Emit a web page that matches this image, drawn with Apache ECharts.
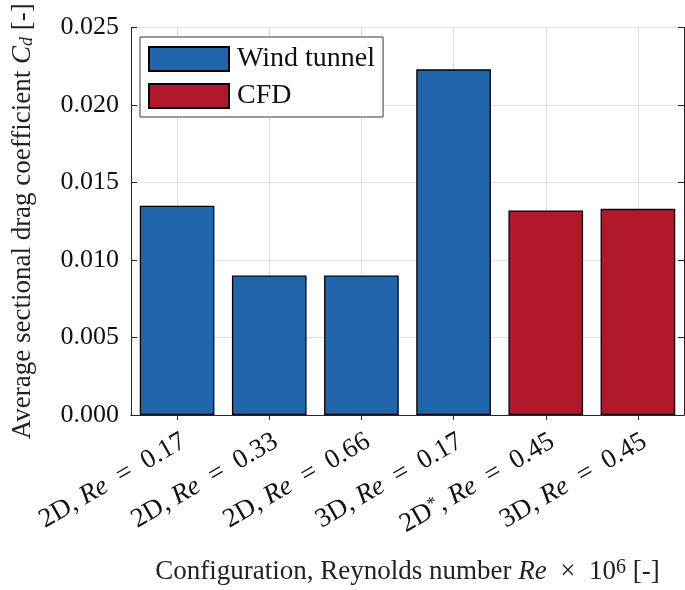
<!DOCTYPE html>
<html>
<head>
<meta charset="utf-8">
<script src="https://cdn.jsdelivr.net/npm/echarts@6/dist/echarts.min.js"></script>
<style>
html,body{margin:0;padding:0;background:#fff;}
#chart{width:685px;height:590px;}
</style>
</head>
<body>
<div id="chart"></div>
<script>
// ---- data ----
const categories = [
  '2D, {i|Re}\u2002=\u20020.17',
  '2D, {i|Re}\u2002=\u20020.33',
  '2D, {i|Re}\u2002=\u20020.66',
  '3D, {i|Re}\u2002=\u20020.17',
  '2D{sup|*}, {i|Re}\u2002=\u20020.45',
  '3D, {i|Re}\u2002=\u20020.45'
];
const windTunnel = [0.0135, 0.0090, 0.0090, 0.0223, '-', '-'];
const cfd = ['-', '-', '-', '-', 0.0132, 0.0133];
const yTicks = [0, 0.005, 0.010, 0.015, 0.020, 0.025];
const seriesNames = ['Wind tunnel', 'CFD'];

// ---- style ----
const FONT = '"Liberation Serif", "Times New Roman", serif';
const AX = '#262626';
const GRID = '#dedede';
const BLUE = '#2166ac';
const RED = '#b2182b';

// helper axis with 2*n+1 slots so odd slots fall on category centers
const helperCats = [];
for (let k = 0; k <= categories.length * 2; k++) helperCats.push(String(k));
const odd = (idx) => idx % 2 === 1;

const chart = echarts.init(document.getElementById('chart'), null, {renderer: 'canvas'});
chart.setOption({
  animation: false,
  backgroundColor: '#fff',
  textStyle: {fontFamily: FONT, color: AX},
  grid: {left: 131, right: 1, top: 27.5, bottom: 169.5, containLabel: false},
  legend: {
    orient: 'vertical',
    left: 140, top: 37,
    padding: [8, 8, 7, 8],
    itemGap: 9,
    itemWidth: 80, itemHeight: 24,
    borderColor: '#3a3a3a', borderWidth: 1,
    backgroundColor: '#fff',
    icon: 'rect',
    data: seriesNames,
    textStyle: {fontFamily: FONT, fontSize: 28, color: '#111', lineHeight: 24, padding: [0, 0, 0, 3]}
  },
  xAxis: [
    {
      type: 'category',
      data: categories,
      position: 'bottom',
      boundaryGap: true,
      axisLine: {show: true, lineStyle: {color: AX, width: 1}},
      axisTick: {show: true, inside: true, alignWithLabel: true, length: 5, lineStyle: {color: AX}},
      splitLine: {show: false},
      axisLabel: {
        rotate: 30, interval: 0, margin: 13,
        align: 'right', verticalAlign: 'top',
        fontFamily: FONT, fontSize: 27, color: '#111',
        rich: {
          i: {fontFamily: FONT, fontStyle: 'italic', fontSize: 27, color: '#111'},
          sup: {fontFamily: FONT, fontSize: 18, verticalAlign: 'top', lineHeight: 16, color: '#111'}
        }
      },
      name: 'Configuration, Reynolds number {i|Re}  ×  10{sup|6} [-]',
      nameLocation: 'middle',
      nameGap: 143,
      nameTextStyle: {
        fontFamily: FONT, fontSize: 27, color: '#222',
        rich: {
          i: {fontFamily: FONT, fontStyle: 'italic', fontSize: 27, color: '#222'},
          sup: {fontFamily: FONT, fontSize: 20, verticalAlign: 'top', lineHeight: 12, color: '#222'}
        }
      }
    },
    {
      type: 'category',
      data: helperCats,
      position: 'top',
      boundaryGap: false,
      axisLine: {show: true, lineStyle: {color: AX, width: 1}},
      axisTick: {show: true, inside: true, length: 5, interval: odd, lineStyle: {color: AX}},
      axisLabel: {show: false},
      splitLine: {show: true, interval: odd, lineStyle: {color: GRID, width: 1}}
    }
  ],
  yAxis: [
    {
      type: 'value',
      min: 0, max: 0.025, interval: 0.005,
      position: 'left',
      axisLine: {show: true, lineStyle: {color: AX, width: 1}},
      axisTick: {show: true, inside: true, length: 6, lineStyle: {color: AX}},
      splitLine: {show: true, lineStyle: {color: GRID, width: 1}},
      axisLabel: {
        margin: 12, fontFamily: FONT, fontSize: 26, color: '#111',
        formatter: (v) => yTicks.some(t => Math.abs(t - v) < 1e-9) ? v.toFixed(3) : ''
      },
      name: 'Average sectional drag coefficient {i|C}{sub|d} [-]',
      nameLocation: 'middle',
      nameRotate: 90,
      nameGap: 95,
      nameTextStyle: {
        fontFamily: FONT, fontSize: 27, color: '#222',
        rich: {
          i: {fontFamily: FONT, fontStyle: 'italic', fontSize: 27, color: '#222'},
          sub: {fontFamily: FONT, fontStyle: 'italic', fontSize: 18, verticalAlign: 'bottom', lineHeight: 16, color: '#222'}
        }
      }
    },
    {
      type: 'value',
      min: 0, max: 0.025, interval: 0.005,
      position: 'right',
      axisLine: {show: true, lineStyle: {color: AX, width: 1}},
      axisTick: {show: true, inside: true, length: 6, lineStyle: {color: AX}},
      splitLine: {show: false},
      axisLabel: {show: false}
    }
  ],
  series: [
    {
      name: seriesNames[0], type: 'bar', xAxisIndex: 0, yAxisIndex: 0,
      data: windTunnel, barWidth: '81%', barGap: '-100%',
      itemStyle: {color: BLUE, borderColor: '#000', borderWidth: 1.3}
    },
    {
      name: seriesNames[1], type: 'bar', xAxisIndex: 0, yAxisIndex: 0,
      data: cfd, barWidth: '81%', barGap: '-100%',
      itemStyle: {color: RED, borderColor: '#000', borderWidth: 1.3}
    }
  ]
});
</script>
</body>
</html>
